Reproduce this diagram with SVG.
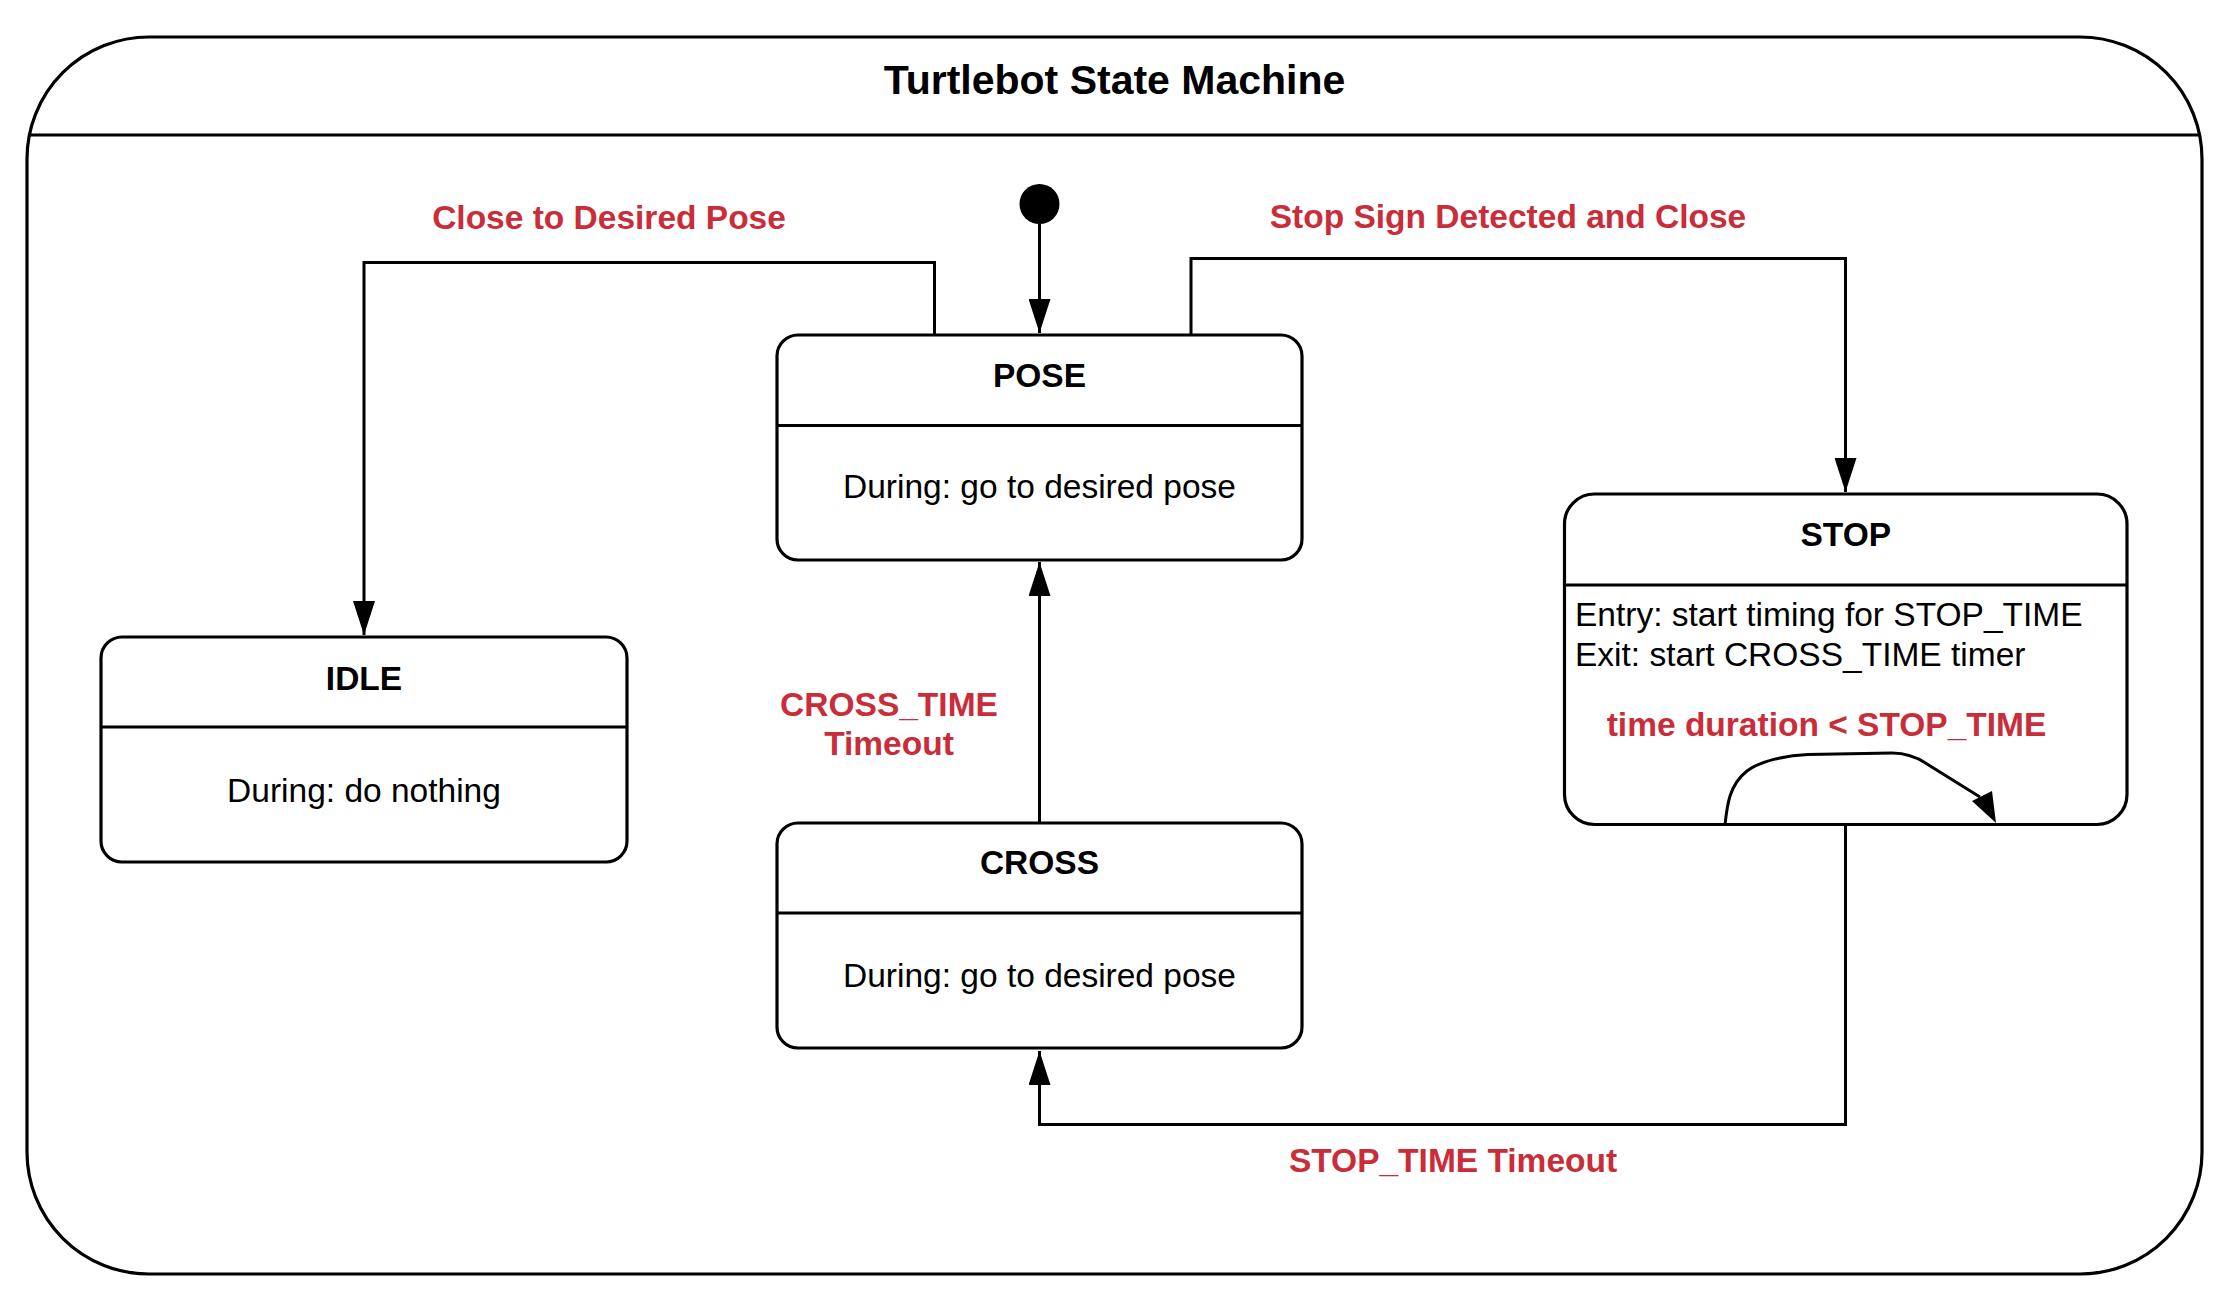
<svg xmlns="http://www.w3.org/2000/svg" width="2236" height="1298" viewBox="0 0 2236 1298">
<style>
  .frame { fill: #fff; stroke: #000; stroke-width: 3.2; }
  .box { fill: #fff; stroke: #000; stroke-width: 3.2; }
  .div { stroke: #000; stroke-width: 3.2; }
  .conn { fill: none; stroke: #000; stroke-width: 3; stroke-linejoin: miter; }
  .t { font-family: "Liberation Sans", Arial, sans-serif; font-size: 33.5px; fill: #000; text-anchor: middle; }
  .b { font-weight: bold; }
  .lbl { font-family: "Liberation Sans", Arial, sans-serif; font-size: 33.5px; font-weight: bold; fill: #C92D39; text-anchor: middle; }
  .title { font-family: "Liberation Sans", Arial, sans-serif; font-size: 41px; font-weight: bold; fill: #000; text-anchor: middle; }
</style>
<defs>
  <marker id="arrow" markerUnits="userSpaceOnUse" markerWidth="34" markerHeight="22" viewBox="0 0 34 22" refX="34" refY="11" orient="auto">
    <path d="M0,0 L34,11 L0,22 z" fill="#000"/>
  </marker>
</defs>
<rect width="2236" height="1298" fill="#fff"/>

<g id="frame">
  <rect class="frame" x="27" y="37" width="2175" height="1237" rx="122" ry="122"/>
  <line class="div" x1="29" y1="135" x2="2200" y2="135"/>
  <text class="title" x="1114.5" y="94">Turtlebot State Machine</text>
</g>

<g id="initial">
  <circle cx="1039.5" cy="204" r="20" fill="#000"/>
</g>

<g id="pose">
  <rect class="box" x="777" y="335" width="525" height="225" rx="21" ry="21"/>
  <line class="div" x1="777" y1="425.5" x2="1302" y2="425.5"/>
  <text class="t b" x="1039.5" y="387">POSE</text>
  <text class="t" x="1039.5" y="498">During: go to desired pose</text>
</g>

<g id="idle">
  <rect class="box" x="101" y="637" width="526" height="225" rx="21" ry="21"/>
  <line class="div" x1="101" y1="727" x2="627" y2="727"/>
  <text class="t b" x="364" y="690">IDLE</text>
  <text class="t" x="364" y="802">During: do nothing</text>
</g>

<g id="cross">
  <rect class="box" x="777" y="823" width="525" height="225" rx="21" ry="21"/>
  <line class="div" x1="777" y1="913" x2="1302" y2="913"/>
  <text class="t b" x="1039.5" y="874">CROSS</text>
  <text class="t" x="1039.5" y="987">During: go to desired pose</text>
</g>

<g id="stop">
  <rect class="box" x="1564.5" y="494" width="562.5" height="330.5" rx="30" ry="30"/>
  <line class="div" x1="1564.5" y1="585" x2="2127" y2="585"/>
  <text class="t b" x="1845.75" y="546">STOP</text>
  <text class="t" x="1575" y="626" text-anchor="start" style="text-anchor:start">Entry: start timing for STOP_TIME</text>
  <text class="t" x="1575" y="666" text-anchor="start" style="text-anchor:start">Exit: start CROSS_TIME timer</text>
</g>

<g id="connectors">
  <path class="conn" d="M1039.5,224 V333" marker-end="url(#arrow)"/>
  <path class="conn" d="M934.5,335 V262.5 H364 V635" marker-end="url(#arrow)"/>
  <path class="conn" d="M1191,335 V258.5 H1845.5 V492" marker-end="url(#arrow)"/>
  <path class="conn" d="M1039.5,823 V562" marker-end="url(#arrow)"/>
  <path class="conn" d="M1845.5,825 V1124.5 H1039.5 V1051" marker-end="url(#arrow)"/>
  <path class="conn" d="M1725,825 C1727,806 1729,785 1747,771 C1760,761 1785,755.5 1808,754.5 L1892,753 C1905,753 1917,757 1927,764 L1980,797"/>
  <polygon points="1996,823 1972,801 1992,791" fill="#000"/>
  <text class="lbl" x="609" y="229">Close to Desired Pose</text>
  <text class="lbl" x="1508" y="227.5">Stop Sign Detected and Close</text>
  <text class="lbl" x="889" y="716">CROSS_TIME</text>
  <text class="lbl" x="889" y="755">Timeout</text>
  <text class="lbl" x="1453" y="1172">STOP_TIME Timeout</text>
  <text class="lbl" x="1826.5" y="736">time duration &lt; STOP_TIME</text>
</g>
</svg>
